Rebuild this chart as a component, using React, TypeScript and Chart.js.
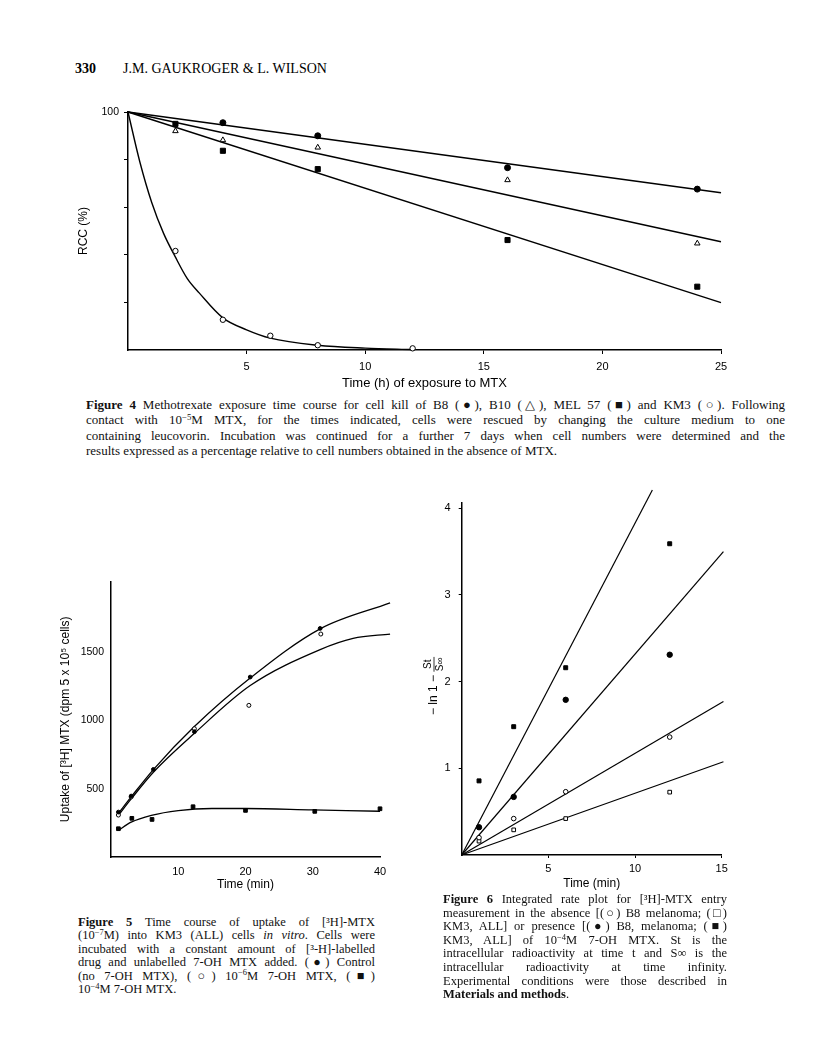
import React, { useEffect, useRef } from "react";
import { Chart, registerables } from "chart.js";

Chart.register(...registerables);

const SANS = "'Liberation Sans', Arial, sans-serif";
const SERIF = "'Liberation Serif', 'Times New Roman', serif";

// ---------- Figure 4 data (time in h, RCC %) ----------
const f4B8Hours = [4, 8, 16, 24];
const f4B8 = [95.5, 90, 76.6, 67.6];
const f4Hours = [2, 4, 8, 16, 24];
const f4B10 = [92, 88.2, 85.1, 71.4, 44.8];
const f4Mel57 = [95, 83.7, 76, 46.2, 26.6];
const f4Km3Hours = [2, 4, 6, 8, 12];
const f4Km3 = [41.6, 12.7, 6, 2, 0.7];
const f4FitHours = [0, 25];
const f4B8Fit = [100, 66.1];
const f4B10Fit = [100, 45.5];
const f4Mel57Fit = [100, 19.9];
const f4Km3CurveHours = [0, 0.5, 1, 1.5, 2, 2.5, 3, 4, 5, 6, 8, 10, 12];
const f4Km3Curve = [100, 79, 62, 49, 39, 30, 24, 13.5, 8.5, 5, 2, 0.8, 0.2];
const f4XTicks = [0, 5, 10, 15, 20, 25];
const f4YTicks = [0, 20, 40, 60, 80, 100];
const f4YLabelled = [100];

// ---------- Figure 5 data (time in min, dpm) ----------
const f5ControlMin = [1.1, 3, 6.3, 12.4, 20.7, 31.1, 41.5];
const f5Control = [329, 446, 641, 917, 1317, 1673, 1857];
const f5LowMin = [1.1, 3, 12.4, 20.5, 31.2, 41.2];
const f5Low = [307, 440, 939, 1110, 1632, 1612];
const f5HighMin = [1.1, 3.1, 6.1, 12.2, 20, 30.3, 40];
const f5High = [207, 283, 275, 368, 341, 334, 353];
const f5ControlCurveMin = [1.1, 3, 6.3, 12.4, 20.7, 31.1, 41.5];
const f5ControlCurve = [320, 440, 640, 955, 1310, 1670, 1860];
const f5LowCurveMin = [1.1, 3, 6.3, 12.4, 20.7, 31.1, 36, 41.5];
const f5LowCurve = [305, 425, 620, 905, 1255, 1518, 1600, 1632];
const f5HighCurveMin = [1.1, 3, 6, 10, 15, 20, 30, 40];
const f5HighCurve = [195, 255, 305, 340, 355, 355, 345, 335];
const f5XTicks = [10, 20, 30, 40];
const f5YTicks = [500, 1000, 1500];

// ---------- Figure 6 data (time in min, -ln(1 - St/Sinf)) ----------
const f6Min = [1, 3, 6, 12];
const f6Km3Drug = [0.855, 1.48, 2.16, 3.59];
const f6B8Drug = [0.32, 0.67, 1.79, 2.31];
const f6B8 = [0.2, 0.42, 0.73, 1.36];
const f6Km3 = [0.16, 0.29, 0.42, 0.725];
const f6Km3DrugFitMin = [0, 11.0];
const f6Km3DrugFit = [0, 4.21];
const f6FitMin = [0, 15.1];
const f6B8DrugFit = [0, 3.5];
const f6B8Fit = [0, 1.77];
const f6Km3Fit = [0, 1.075];
const f6XTicks = [5, 10, 15];
const f6YTicks = [1, 2, 3, 4];

const xy = (xs: number[], ys: number[]) => xs.map((x, i) => ({ x, y: ys[i] }));

const pts = (data: any[], style: string, radius: number, filled: boolean) => ({
  data,
  showLine: false,
  pointStyle: style,
  pointRadius: radius,
  pointHoverRadius: radius,
  pointBackgroundColor: filled ? "#000" : "#fff",
  pointBorderColor: "#000",
  pointBorderWidth: 1,
  clip: false,
});

const curve = (data: any[], smooth: boolean, width = 1.4) => ({
  data,
  showLine: true,
  pointRadius: 0,
  pointHoverRadius: 0,
  borderColor: "#000",
  borderWidth: width,
  cubicInterpolationMode: smooth ? "monotone" : "default",
  tension: 0,
  fill: false,
  clip: false,
});

const setTicks = (vals: number[]) => (s: any) => {
  s.ticks = vals.map((v) => ({ value: v }));
};

function axis(o: {
  min: number;
  max: number;
  ticks: number[];
  label: (v: number) => string;
  fit: (s: any) => void;
  tickLength: number;
  drawTicks: boolean;
  padding: number;
  fontSize: number;
  title?: { text: string; size: number; pad: any };
  position: string;
}) {
  return {
    type: "linear",
    position: o.position,
    min: o.min,
    max: o.max,
    afterBuildTicks: setTicks(o.ticks),
    afterFit: o.fit,
    ticks: {
      autoSkip: false,
      maxRotation: 0,
      color: "#000",
      padding: o.padding,
      font: { family: SANS, size: o.fontSize },
      callback: (v: any) => o.label(Number(v)),
    },
    grid: {
      drawOnChartArea: false,
      drawTicks: o.drawTicks,
      tickLength: o.tickLength,
      tickWidth: 1,
      tickColor: (c: any) => (c.tick && c.tick.value === 0 ? "rgba(0,0,0,0)" : "#000"),
    },
    border: { display: true, color: "#000", width: 1.5 },
    title: o.title
      ? {
          display: true,
          text: o.title.text,
          color: "#000",
          font: { family: SANS, size: o.title.size },
          padding: o.title.pad,
        }
      : { display: false },
  };
}

const baseOptions = (padTop: number, padRight: number, scales: any) => ({
  responsive: false,
  animation: false,
  devicePixelRatio: 1,
  events: [],
  layout: { padding: { top: padTop, right: padRight, left: 0, bottom: 0 } },
  plugins: { legend: { display: false }, tooltip: { enabled: false }, title: { display: false } },
  scales,
});

// Figure 4: canvas at (40,95) 720x300; plot 128..721 x 112..350
const makeFig4 = () => ({
  type: "scatter",
  data: {
    datasets: [
      pts(xy(f4B8Hours, f4B8), "circle", 3, true),
      pts(xy(f4Hours, f4B10), "triangle", 3.2, false),
      pts(xy(f4Hours, f4Mel57), "rect", 3.6, true),
      pts(xy(f4Km3Hours, f4Km3), "circle", 2.7, false),
      curve(xy(f4FitHours, f4B8Fit), false),
      curve(xy(f4FitHours, f4B10Fit), false),
      curve(xy(f4FitHours, f4Mel57Fit), false),
      curve(xy(f4Km3CurveHours, f4Km3Curve), true),
    ],
  },
  options: baseOptions(17, 39, {
    x: axis({
      position: "bottom",
      min: 0,
      max: 25,
      ticks: f4XTicks,
      label: (v) => (v === 0 ? "" : String(v)),
      fit: (s) => {
        s.height = 45;
      },
      tickLength: 4,
      drawTicks: true,
      padding: 6,
      fontSize: 11,
      title: { text: "Time (h) of exposure to MTX", size: 13, pad: { top: 0, bottom: 4 } },
    }),
    y: axis({
      position: "left",
      min: 0,
      max: 100,
      ticks: f4YTicks,
      label: (v) => (f4YLabelled.includes(v) ? String(v) : ""),
      fit: (s) => {
        s.width = 88;
      },
      tickLength: 4,
      drawTicks: true,
      padding: 5,
      fontSize: 10.5,
      title: { text: "RCC (%)", size: 12, pad: { top: 36, bottom: 0 } },
    }),
  }),
});

// Figure 5: canvas at (30,565) 380x330; plot 111..380 x 581.7..857
const makeFig5 = () => ({
  type: "scatter",
  data: {
    datasets: [
      pts(xy(f5ControlMin, f5Control), "circle", 1.9, true),
      pts(xy(f5LowMin, f5Low), "circle", 2, false),
      pts(xy(f5HighMin, f5High), "rect", 2.6, true),
      curve(xy(f5ControlCurveMin, f5ControlCurve), true, 1.3),
      curve(xy(f5LowCurveMin, f5LowCurve), true, 1.3),
      curve(xy(f5HighCurveMin, f5HighCurve), true, 1.3),
    ],
  },
  options: baseOptions(16.7, 30, {
    x: axis({
      position: "bottom",
      min: 0,
      max: 40,
      ticks: f5XTicks,
      label: (v) => String(v),
      fit: (s) => {
        s.height = 38;
      },
      tickLength: 0,
      drawTicks: false,
      padding: 8,
      fontSize: 11,
      title: { text: "Time (min)", size: 12, pad: { top: 0, bottom: 3 } },
    }),
    y: axis({
      position: "left",
      min: 0,
      max: 2015,
      ticks: f5YTicks,
      label: (v) => String(v),
      fit: (s) => {
        s.width = 81;
      },
      tickLength: 0,
      drawTicks: false,
      padding: 7,
      fontSize: 10.5,
      title: { text: "Uptake of [³H] MTX (dpm 5 x 10⁵ cells)", size: 12, pad: { top: 28, bottom: 0 } },
    }),
  }),
});

// Rotated fraction label for Figure 6's y axis
const fracLabel = {
  id: "fracLabel",
  afterDraw(chart: any) {
    const ctx = chart.ctx;
    ctx.save();
    ctx.translate(34, 206);
    ctx.rotate(-Math.PI / 2);
    ctx.fillStyle = "#000";
    ctx.strokeStyle = "#000";
    ctx.textBaseline = "middle";
    ctx.font = `12px ${SANS}`;
    const main = "− ln 1 − ";
    const w = ctx.measureText(main).width;
    ctx.font = `10px ${SANS}`;
    const fw = Math.max(ctx.measureText("St").width, ctx.measureText("S∞").width) + 1;
    const start = -(w + fw) / 2;
    ctx.font = `12px ${SANS}`;
    ctx.textAlign = "left";
    ctx.fillText(main, start, 0);
    const fx = start + w + fw / 2;
    ctx.font = `10px ${SANS}`;
    ctx.textAlign = "center";
    ctx.fillText("St", fx, -6);
    ctx.fillText("S∞", fx, 6.5);
    ctx.lineWidth = 0.8;
    ctx.beginPath();
    ctx.moveTo(fx - fw / 2, 0);
    ctx.lineTo(fx + fw / 2, 0);
    ctx.stroke();
    ctx.restore();
  },
};

// Figure 6: canvas at (400,480) 340x415; plot 461.7..721.7 x 503..855
const makeFig6 = () => ({
  type: "scatter",
  data: {
    datasets: [
      pts(xy(f6Min, f6Km3Drug), "rect", 2.8, true),
      pts(xy(f6Min, f6B8Drug), "circle", 2.7, true),
      pts(xy(f6Min, f6B8), "circle", 2.3, false),
      pts(xy(f6Min, f6Km3), "rect", 2.6, false),
      curve(xy(f6Km3DrugFitMin, f6Km3DrugFit), false, 1.2),
      curve(xy(f6FitMin, f6B8DrugFit), false, 1.2),
      curve(xy(f6FitMin, f6B8Fit), false, 1.2),
      curve(xy(f6FitMin, f6Km3Fit), false, 1.2),
    ],
  },
  options: baseOptions(23, 18.3, {
    x: axis({
      position: "bottom",
      min: 0,
      max: 15,
      ticks: f6XTicks,
      label: (v) => String(v),
      fit: (s) => {
        s.height = 40;
      },
      tickLength: 3,
      drawTicks: true,
      padding: 4,
      fontSize: 11,
      title: { text: "Time (min)", size: 12, pad: { top: 0, bottom: 4 } },
    }),
    y: axis({
      position: "left",
      min: 0,
      max: 4.06,
      ticks: f6YTicks,
      label: (v) => String(v),
      fit: (s) => {
        s.width = 61.7;
      },
      tickLength: 3,
      drawTicks: true,
      padding: 8,
      fontSize: 11,
    }),
  }),
  plugins: [fracLabel],
});

function ChartCanvas({ left, top, width, height, make }: any) {
  const ref = useRef<HTMLCanvasElement | null>(null);
  useEffect(() => {
    if (!ref.current) return;
    const chart = new Chart(ref.current, make() as any);
    return () => chart.destroy();
  }, []);
  return (
    <canvas
      ref={ref}
      width={width}
      height={height}
      style={{ position: "absolute", left, top, width, height }}
    />
  );
}

const Sup = ({ children }: any) => (
  <span style={{ fontSize: "0.68em", position: "relative", top: "-0.5em" }}>{children}</span>
);

function Caption({ left, top, width, size, lh, lines }: any) {
  return (
    <div
      style={{
        position: "absolute",
        left,
        top,
        width,
        fontFamily: SERIF,
        fontSize: size,
        color: "#111",
      }}
    >
      {lines.map((l: any, i: number) => (
        <div
          key={i}
          style={{
            height: lh,
            lineHeight: `${lh}px`,
            textAlign: l.j ? "justify" : "left",
            textAlignLast: l.j ? "justify" : "left",
            whiteSpace: "normal",
          } as any}
        >
          {l.c}
        </div>
      ))}
    </div>
  );
}

export default function App() {
  return (
    <div
      style={{
        position: "absolute",
        left: 0,
        top: 0,
        width: 816,
        height: 1057,
        background: "#fff",
        overflow: "hidden",
      }}
    >
      <div style={{ position: "absolute", left: 75, top: 61, fontFamily: SERIF, fontSize: 14, lineHeight: "16px", fontWeight: "bold" }}>
        330
      </div>
      <div style={{ position: "absolute", left: 123, top: 61, fontFamily: SERIF, fontSize: 14, lineHeight: "16px" }}>
        J.M. GAUKROGER &amp; L. WILSON
      </div>

      <ChartCanvas left={40} top={95} width={720} height={300} make={makeFig4} />
      <Caption
        left={86}
        top={397}
        width={699}
        size={13}
        lh={15.3}
        lines={[
          {
            j: true,
            c: (
              <>
                <b>Figure 4</b>{"  "}Methotrexate exposure time course for cell kill of B8 (●), B10 (△), MEL 57 (■) and KM3 (○). Following
              </>
            ),
          },
          {
            j: true,
            c: (
              <>
                contact with 10<Sup>−5</Sup>M MTX, for the times indicated, cells were rescued by changing the culture medium to one
              </>
            ),
          },
          { j: true, c: "containing leucovorin. Incubation was continued for a further 7 days when cell numbers were determined and the" },
          { j: false, c: "results expressed as a percentage relative to cell numbers obtained in the absence of MTX." },
        ]}
      />

      <ChartCanvas left={30} top={565} width={380} height={330} make={makeFig5} />
      <Caption
        left={78}
        top={916}
        width={297}
        size={12.5}
        lh={13.4}
        lines={[
          { j: true, c: (<><b>Figure 5</b> Time course of uptake of [³H]-MTX</>) },
          { j: true, c: (<>(10<Sup>−7</Sup>M) into KM3 (ALL) cells <i>in vitro</i>. Cells were</>) },
          { j: true, c: "incubated with a constant amount of [³-H]-labelled" },
          { j: true, c: "drug and unlabelled 7-OH MTX added. (●) Control" },
          { j: true, c: (<>(no 7-OH MTX), (○) 10<Sup>−6</Sup>M 7-OH MTX, (■)</>) },
          { j: false, c: (<>10<Sup>−4</Sup>M 7-OH MTX.</>) },
        ]}
      />

      <ChartCanvas left={400} top={480} width={340} height={415} make={makeFig6} />
      <Caption
        left={443}
        top={893}
        width={284}
        size={12.5}
        lh={13.6}
        lines={[
          { j: true, c: (<><b>Figure 6</b> Integrated rate plot for [³H]-MTX entry</>) },
          { j: true, c: "measurement in the absence [(○) B8 melanoma; (□)" },
          { j: true, c: "KM3, ALL] or presence [(●) B8, melanoma; (■)" },
          { j: true, c: (<>KM3, ALL] of 10<Sup>−4</Sup>M 7-OH MTX. St is the</>) },
          { j: true, c: "intracellular radioactivity at time t and S∞ is the" },
          { j: true, c: "intracellular radioactivity at time infinity." },
          { j: true, c: "Experimental conditions were those described in" },
          { j: false, c: (<><b>Materials and methods</b>.</>) },
        ]}
      />
    </div>
  );
}
